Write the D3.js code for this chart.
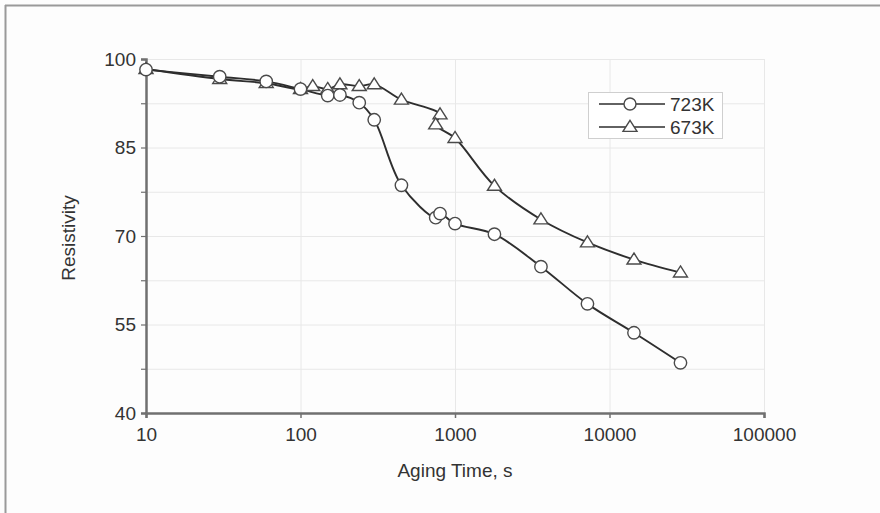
<!DOCTYPE html>
<html>
<head>
<meta charset="utf-8">
<script src="https://cdn.jsdelivr.net/npm/d3@7"></script>
<style>
  html, body { margin: 0; padding: 0; background: #fdfdfd; }
  svg { display: block; }
  text { font-family: "Liberation Sans", Arial, sans-serif; fill: #333; }
</style>
</head>
<body>
<svg id="chart" width="880" height="513"></svg>
<script>
// ---- data ----
const series723Time  = [10, 30, 60, 100, 150, 180, 240, 300, 450, 750, 800, 1000, 1800, 3600, 7200, 14400, 28800];
const series723Value = [98.2, 97.0, 96.2, 94.9, 93.8, 93.9, 92.6, 89.7, 78.6, 73.1, 73.8, 72.1, 70.3, 64.8, 58.5, 53.6, 48.5];
const series673Time  = [10, 30, 60, 100, 120, 150, 180, 240, 300, 450, 800, 750, 1000, 1800, 3600, 7200, 14400, 28800];
const series673Value = [98.3, 96.6, 95.9, 94.9, 95.4, 94.9, 95.7, 95.4, 95.7, 93.1, 90.6, 88.9, 86.6, 78.5, 72.8, 68.9, 66.0, 63.8];
const seriesNames = ["723K", "673K"];
const xTickValues = [10, 100, 1000, 10000, 100000];
const yTickValues = [40, 55, 70, 85, 100];
const yMinorTicks = [47.5, 62.5, 77.5, 92.5];
const xAxisTitle = "Aging Time, s";
const yAxisTitle = "Resistivity";

// ---- layout ----
const svg = d3.select("#chart");
const pLeft = 146, pRight = 764, pTop = 59, pBottom = 413;
const fontSize = 19;

const x = d3.scaleLog().domain([10, 100000]).range([pLeft, pRight]);
const y = d3.scaleLinear().domain([40, 100]).range([pBottom, pTop]);

// frame lines
svg.append("line").attr("x1", 5).attr("x2", 880).attr("y1", 5.5).attr("y2", 5.5)
  .attr("stroke", "#9a9a9a").attr("stroke-width", 2);
svg.append("line").attr("x1", 5.5).attr("x2", 5.5).attr("y1", 5).attr("y2", 513)
  .attr("stroke", "#9a9a9a").attr("stroke-width", 2);

// gridlines
const grid = svg.append("g");
grid.selectAll("line.h").data(yTickValues.concat(yMinorTicks).filter(v => v > 40)).enter()
  .append("line").attr("x1", pLeft).attr("x2", pRight)
  .attr("y1", d => y(d) + 0.5).attr("y2", d => y(d) + 0.5)
  .attr("stroke", "#e8e8e8").attr("stroke-width", 1);
grid.selectAll("line.v").data(xTickValues.filter(v => v > 10)).enter()
  .append("line").attr("x1", d => x(d) + 0.5).attr("x2", d => x(d) + 0.5)
  .attr("y1", pTop).attr("y2", pBottom)
  .attr("stroke", "#e8e8e8").attr("stroke-width", 1);

// axes
const xAxis = d3.axisBottom(x).tickValues(xTickValues).tickFormat(d3.format("d")).tickSize(5).tickPadding(10);
const gx = svg.append("g").attr("transform", `translate(0,${pBottom})`).call(xAxis);
gx.select(".domain").attr("stroke", "#707070").attr("stroke-width", 2.5);
gx.selectAll(".tick line").attr("stroke", "#707070").attr("stroke-width", 1.5);
gx.selectAll(".tick text").attr("font-size", fontSize).attr("fill", "#333")
  .attr("font-family", "Liberation Sans, Arial, sans-serif");

const yAxis = d3.axisLeft(y).tickValues(yTickValues.concat(yMinorTicks))
  .tickFormat(d => yTickValues.includes(d) ? d : "").tickSize(5).tickPadding(5);
const gy = svg.append("g").attr("transform", `translate(${pLeft},0)`).call(yAxis);
gy.select(".domain").attr("stroke", "#707070").attr("stroke-width", 2.5);
gy.selectAll(".tick line").attr("stroke", "#707070").attr("stroke-width", 1.2);
gy.selectAll(".tick text").attr("font-size", fontSize).attr("fill", "#333")
  .attr("font-family", "Liberation Sans, Arial, sans-serif");

// axis titles
svg.append("text").attr("x", (pLeft + pRight) / 2).attr("y", 477).attr("text-anchor", "middle")
  .attr("font-size", fontSize).text(xAxisTitle);
svg.append("text").attr("transform", `translate(75,238) rotate(-90)`)
  .attr("text-anchor", "middle").attr("font-size", fontSize).text(yAxisTitle);

// series
const s723 = series723Time.map((t, i) => ({t, v: series723Value[i]}));
const s673 = series673Time.map((t, i) => ({t, v: series673Value[i]}));
const line = d3.line().x(d => x(d.t)).y(d => y(d.v)).curve(d3.curveCatmullRom.alpha(0.5));

const lineColor = "#2e2e2e";
const markColor = "#4a4a4a";

function triPath(cx, cy) {
  const w = 7, h = 11;
  return `M${cx},${cy - h * 0.6} L${cx + w},${cy + h * 0.4} L${cx - w},${cy + h * 0.4} Z`;
}

svg.append("path").datum(s673).attr("d", line).attr("fill", "none")
  .attr("stroke", lineColor).attr("stroke-width", 1.9);
svg.append("path").datum(s723).attr("d", line).attr("fill", "none")
  .attr("stroke", lineColor).attr("stroke-width", 1.9);

svg.append("g").selectAll("path").data(s673).enter().append("path")
  .attr("d", d => triPath(x(d.t), y(d.v)))
  .attr("fill", "#fff").attr("stroke", markColor).attr("stroke-width", 1.4);
svg.append("g").selectAll("circle").data(s723).enter().append("circle")
  .attr("cx", d => x(d.t)).attr("cy", d => y(d.v)).attr("r", 6.2)
  .attr("fill", "#fff").attr("stroke", markColor).attr("stroke-width", 1.4);

// legend
const lg = svg.append("g");
lg.append("rect").attr("x", 588.5).attr("y", 92.5).attr("width", 134).attr("height", 46)
  .attr("fill", "#fff").attr("stroke", "#cfcfcf").attr("stroke-width", 1);
const rows = [104, 127];
rows.forEach((ry, i) => {
  lg.append("line").attr("x1", 599).attr("x2", 665).attr("y1", ry).attr("y2", ry)
    .attr("stroke", lineColor).attr("stroke-width", 1.5);
  if (i === 0) {
    lg.append("circle").attr("cx", 630).attr("cy", ry).attr("r", 6)
      .attr("fill", "#fff").attr("stroke", markColor).attr("stroke-width", 1.4);
  } else {
    lg.append("path").attr("d", triPath(630, ry)).attr("fill", "#fff")
      .attr("stroke", markColor).attr("stroke-width", 1.4);
  }
  lg.append("text").attr("x", 670).attr("y", ry).attr("dy", "0.36em")
    .attr("font-size", fontSize).text(seriesNames[i]);
});
</script>
</body>
</html>
